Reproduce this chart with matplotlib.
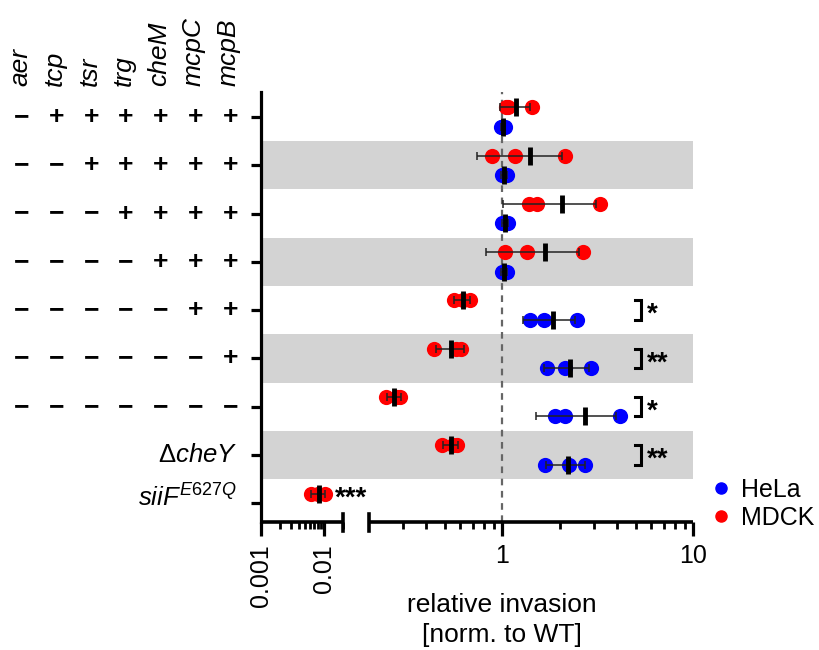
import numpy as np
import matplotlib
matplotlib.use("Agg")
import matplotlib.pyplot as plt
from matplotlib.lines import Line2D
from matplotlib.transforms import blended_transform_factory
from matplotlib.ticker import FixedLocator, NullFormatter

plt.rcParams['font.family'] = ['Liberation Sans', 'DejaVu Sans']
plt.rcParams['mathtext.fontset'] = 'custom'
plt.rcParams['mathtext.rm'] = 'Liberation Sans'
plt.rcParams['mathtext.it'] = 'Liberation Sans:italic'

# gene columns and +/- pattern for the first 7 strains
genes = ['aer', 'tcp', 'tsr', 'trg', 'cheM', 'mcpC', 'mcpB']
signs = [
    '-++++++',
    '--+++++',
    '---++++',
    '----+++',
    '-----++',
    '------+',
    '-------',
]
extra_labels = [r'$\Delta\mathit{cheY}$', r'$\mathit{siiF}^{\mathit{E627Q}}$']

# relative invasion (norm. to WT), 3 replicates per strain
mdck = [
    [1.05, 1.07, 1.43],
    [0.88, 1.16, 2.13],
    [1.38, 1.51, 3.23],
    [1.03, 1.34, 2.63],
    [0.56, 0.62, 0.68],
    [0.44, 0.57, 0.61],
    [0.245, 0.28, 0.29],
    [0.485, 0.55, 0.58],
    [0.0063, 0.0080, 0.0106],
]
hela = [
    [0.98, 1.00, 1.03],
    [0.99, 1.02, 1.06],
    [1.00, 1.03, 1.07],
    [0.99, 1.02, 1.06],
    [1.39, 1.66, 2.45],
    [1.72, 2.13, 2.90],
    [1.89, 2.13, 4.10],
    [1.68, 2.22, 2.70],
]
stars = {4: '*', 5: '**', 6: '*', 7: '**'}
siif_stars = '***'

# broken log axis: 0.001-0.02 | gap | 0.2-10
LO_END, HI_START = 0.02, 0.2
p_lo_end = 260 + 63 * (np.log10(LO_END) + 3)
p_hi_start = 502 + 191.5 * np.log10(HI_START)


def fwd(v):
    L = np.log10(np.clip(np.asarray(v, dtype=float), 1e-9, None))
    left = 260 + 63 * (L + 3)
    right = 502 + 191.5 * L
    t = (L - np.log10(LO_END)) / (np.log10(HI_START) - np.log10(LO_END))
    mid = p_lo_end + t * (p_hi_start - p_lo_end)
    return np.where(L <= np.log10(LO_END), left,
                    np.where(L >= np.log10(HI_START), right, mid))


def inv(p):
    p = np.asarray(p, dtype=float)
    left = (p - 260) / 63 - 3
    right = (p - 502) / 191.5
    t = (p - p_lo_end) / (p_hi_start - p_lo_end)
    mid = np.log10(LO_END) + t * (np.log10(HI_START) - np.log10(LO_END))
    L = np.where(p <= p_lo_end, left, np.where(p >= p_hi_start, right, mid))
    return 10 ** L


W, H = 820, 650
fig = plt.figure(figsize=(W / 100, H / 100), dpi=100)
ax = fig.add_axes([261 / W, 1 - 522 / H, (693.5 - 261) / W, (522 - 92) / H])
ax.set_xscale('function', functions=(fwd, inv))
ax.set_xlim(0.001, 10)
ax.set_ylim(8.39, -0.52)

FS = 18
RED, BLUE = '#ff0000', '#0000ff'
off = 0.2

# grey bands
for i in range(1, 9, 2):
    ax.axhspan(i - 0.5, i + 0.5, color='#d3d3d3', lw=0, zorder=0)

ax.axvline(1, color='#666666', lw=1.6, ls=(0, (3, 2.5)), zorder=1)


def draw_group(vals, y, color):
    vals = np.array(vals)
    m, sd = vals.mean(), vals.std(ddof=1)
    ax.scatter(vals, np.full(len(vals), y), s=120, color=color, lw=0, zorder=3)
    ax.errorbar(m, y, xerr=sd, fmt='none', ecolor='#222222', elinewidth=1.1,
                capsize=3, capthick=1.1, zorder=4)
    ax.plot(m, y, marker='|', ms=13, mew=3.5, color='k', zorder=5)


for i, vals in enumerate(mdck):
    draw_group(vals, i - off, RED)
for i, vals in enumerate(hela):
    draw_group(vals, i + off, BLUE)

# significance brackets
for i, s in stars.items():
    y0, y1 = i - off, i + off
    ax.plot([4.93, 5.3, 5.3, 4.93], [y0, y0, y1, y1], color='k', lw=2.2,
            solid_joinstyle='miter', zorder=4)
    ax.text(5.7, i + 0.1, s, fontsize=FS + 2, fontweight='bold', ha='left', va='center')
ax.text(0.0152, 8 - off + 0.1, siif_stars, fontsize=FS + 2, fontweight='bold',
        ha='left', va='center')

# axes styling
for side in ['top', 'right', 'bottom']:
    ax.spines[side].set_visible(False)
ax.spines['left'].set_linewidth(2.3)
ax.set_yticks(range(9))
ax.set_yticklabels([])
ax.tick_params(axis='y', length=7, width=2.3)

major = [0.001, 0.01, 1, 10]
minor = [k * 0.001 for k in range(2, 10)] + [0.02] + \
        [k * 0.1 for k in range(3, 10)] + [float(k) for k in range(2, 10)]
ax.xaxis.set_major_locator(FixedLocator(major))
ax.xaxis.set_minor_locator(FixedLocator(minor))
ax.xaxis.set_minor_formatter(NullFormatter())
ax.set_xticklabels(['0.001', '0.01', '1', '10'])
ax.tick_params(axis='x', which='major', length=10, width=2.3, labelsize=FS, pad=6)
ax.tick_params(axis='x', which='minor', length=5, width=2.0)
for lab in ax.get_xticklabels()[:2]:
    lab.set_rotation(90)
    lab.set_va('top')

# broken bottom spine
tb = blended_transform_factory(ax.transData, ax.transAxes)
for a, b in [(0.001, LO_END), (HI_START, 10)]:
    ax.plot([a, b], [0, 0], color='k', lw=2.6, transform=tb, clip_on=False,
            solid_capstyle='butt', zorder=6)
for x in [LO_END, HI_START]:
    ax.plot([x, x], [-0.02, 0.018], color='k', lw=2.6, transform=tb,
            clip_on=False, zorder=6)

# row labels
tr = blended_transform_factory(fig.transFigure, ax.transData)
cols = [22, 57, 91.5, 126, 161, 196, 230.5]
for i, row in enumerate(signs):
    for c, s in zip(cols, row):
        ax.text(c / W, i, '+' if s == '+' else '\u2212', fontsize=FS + 1,
                fontweight='bold', ha='center', va='center', transform=tr)
ax.text(237 / W, 7, extra_labels[0], fontsize=FS + 0.5, ha='right', va='center', transform=tr)
ax.text(237 / W, 7.9, extra_labels[1], fontsize=FS + 0.5, ha='right', va='center', transform=tr)

for c, g in zip(cols, genes):
    fig.text((c - 2) / W, 1 - 86 / H, g, fontsize=FS + 1, style='italic',
             rotation=90, ha='center', va='bottom')

fig.text(502 / W, 1 - 605 / H, 'relative invasion', fontsize=FS + 1, ha='center', va='center')
fig.text(502 / W, 1 - 635 / H, '[norm. to WT]', fontsize=FS + 1, ha='center', va='center')

handles = [Line2D([], [], ls='', marker='o', ms=8, color=BLUE, label='HeLa'),
           Line2D([], [], ls='', marker='o', ms=8, color=RED, label='MDCK')]
fig.legend(handles=handles, loc='center left', bbox_to_anchor=(711 / W, 1 - 504 / H),
           frameon=False, fontsize=FS, handlelength=0.8, handletextpad=0.4,
           labelspacing=0.15, borderpad=0, borderaxespad=0)

fig.savefig('out.png', dpi=100)
